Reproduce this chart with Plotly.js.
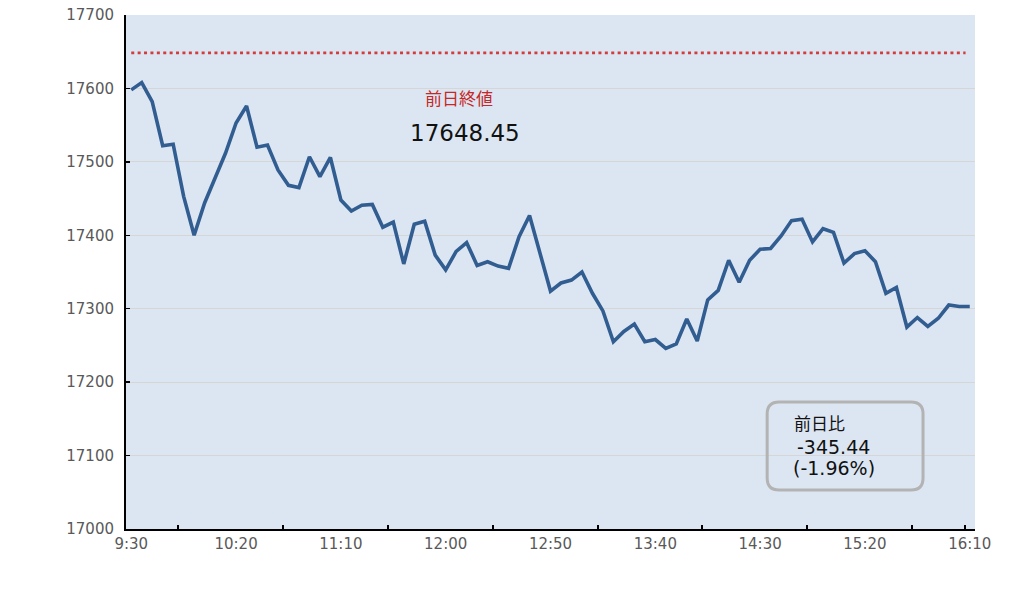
<!DOCTYPE html>
<html>
<head>
<meta charset="utf-8">
<script src="https://cdn.plot.ly/plotly-3.0.1.min.js"></script>
<style>html,body{margin:0;padding:0;background:#fff;}#chart{width:1036px;height:598px;}</style>
</head>
<body>
<div id="chart"></div>
<script>
// Index values every 5 minutes from 9:30 to 16:10
const stepMinutes = 5;
const prices = [
  17598, 17608, 17582, 17522, 17524, 17453, 17400, 17444, 17478, 17512,
  17553, 17576, 17520, 17523, 17489, 17468, 17465, 17507, 17480, 17506,
  17448, 17433, 17441, 17442, 17411, 17418, 17361, 17415, 17419, 17373,
  17353, 17378, 17390, 17359, 17364, 17358, 17355, 17398, 17427, 17375,
  17324, 17335, 17339, 17350, 17321, 17297, 17255, 17269, 17279, 17255,
  17258, 17246, 17252, 17286, 17256, 17312, 17325, 17366, 17336, 17366,
  17381, 17382, 17399, 17420, 17422, 17391, 17409, 17404, 17362, 17375,
  17379, 17364, 17321, 17329, 17275, 17288, 17276, 17287, 17305, 17303,
  17303.01
];
const prevClose = 17648.45;
const prevCloseLabel = "前日終値";
const changeLabel = "前日比";
const changeValue = "-345.44";
const changePct = "(-1.96%)";
const tickLabels = ["9:30","10:20","11:10","12:00","12:50","13:40","14:30","15:20","16:10"];
const tickMinutes = [0, 50, 100, 150, 200, 250, 300, 350, 400];
const minorTickMinutes = [22.5, 72.5, 122.5, 172.5, 222.5, 272.5, 322.5, 372.5, 397.5];

const minutes = prices.map((_, i) => i * stepMinutes);
const lastMinute = minutes[minutes.length - 1];

const numFont = "DejaVu Sans, Noto Sans CJK JP, sans-serif";
const jpFont = "Noto Sans CJK JP, DejaVu Sans, sans-serif";

const traces = [
  {
    x: [0, lastMinute - 2],
    y: [prevClose, prevClose],
    mode: "lines",
    line: {color: "#d23c3c", width: 2.6, dash: "3px,3.4px"},
    hoverinfo: "skip",
    showlegend: false
  },
  {
    x: minutes,
    y: prices,
    mode: "lines",
    line: {color: "#325d91", width: 3.6},
    showlegend: false
  },
  {
    x: minutes,
    y: prices,
    xaxis: "x2",
    mode: "lines",
    line: {width: 0},
    opacity: 0,
    hoverinfo: "skip",
    showlegend: false
  }
];

// rounded box (paper coords)
const bx0 = 0.7552, bx1 = 0.9388, by0 = 0.0759, by1 = 0.2471;
const rx = 0.0141, ry = 0.0234;
const boxPath = `M ${bx0+rx},${by1} L ${bx1-rx},${by1} Q ${bx1},${by1} ${bx1},${by1-ry} ` +
  `L ${bx1},${by0+ry} Q ${bx1},${by0} ${bx1-rx},${by0} L ${bx0+rx},${by0} ` +
  `Q ${bx0},${by0} ${bx0},${by0+ry} L ${bx0},${by1-ry} Q ${bx0},${by1} ${bx0+rx},${by1} Z`;

const layout = {
  width: 1036,
  height: 598,
  margin: {l: 125.5, r: 61, t: 15, b: 69},
  paper_bgcolor: "#ffffff",
  plot_bgcolor: "#dce6f2",
  xaxis: {
    type: "linear",
    range: [-2.5, 402.5],
    tickmode: "array",
    tickvals: tickMinutes,
    ticktext: tickLabels,
    ticks: "",
    showgrid: false,
    zeroline: false,
    showline: true,
    linecolor: "#000000",
    linewidth: 2,
    tickfont: {family: numFont, size: 15, color: "#595959"},
    ticklabelstandoff: 0,
    fixedrange: true
  },
  xaxis2: {
    overlaying: "x",
    anchor: "y",
    side: "bottom",
    type: "linear",
    range: [-2.5, 402.5],
    tickmode: "array",
    tickvals: minorTickMinutes,
    ticks: "inside",
    ticklen: 4,
    tickwidth: 2,
    tickcolor: "#000000",
    showticklabels: false,
    showgrid: false,
    zeroline: false,
    showline: false
  },
  yaxis: {
    range: [17000, 17700],
    dtick: 100,
    tick0: 17000,
    tickformat: "d",
    ticks: "inside",
    ticklen: 4,
    tickwidth: 1.5,
    tickcolor: "#000000",
    showgrid: true,
    gridcolor: "#d6d6d6",
    gridwidth: 1,
    zeroline: false,
    showline: true,
    linecolor: "#000000",
    linewidth: 2,
    tickfont: {family: numFont, size: 15, color: "#595959"},
    ticklabelstandoff: 7,
    fixedrange: true
  },
  shapes: [
    {
      type: "path",
      xref: "paper",
      yref: "paper",
      path: boxPath,
      line: {color: "#b3b3b3", width: 3},
      fillcolor: "rgba(0,0,0,0)"
    }
  ],
  annotations: [
    {xref: "paper", yref: "paper", x: 0.3926, y: 0.8395, xanchor: "center", yanchor: "middle",
     text: prevCloseLabel, showarrow: false, font: {family: jpFont, size: 17, color: "#c62828"}},
    {xref: "paper", yref: "paper", x: 0.3997, y: 0.7714, xanchor: "center", yanchor: "middle",
     text: prevClose.toFixed(2), showarrow: false, font: {family: numFont, size: 23, color: "#111111"}},
    {xref: "paper", yref: "paper", x: 0.7855, y: 0.2063, xanchor: "left", yanchor: "middle", borderpad: 0,
     text: changeLabel, showarrow: false, font: {family: jpFont, size: 17, color: "#111111"}},
    {xref: "paper", yref: "paper", x: 0.7895, y: 0.1605, xanchor: "left", yanchor: "middle", borderpad: 0,
     text: changeValue, showarrow: false, font: {family: numFont, size: 19, color: "#111111"}},
    {xref: "paper", yref: "paper", x: 0.7850, y: 0.1190, xanchor: "left", yanchor: "middle", borderpad: 0,
     text: changePct, showarrow: false, font: {family: numFont, size: 19, color: "#111111"}}
  ],
  showlegend: false,
  hovermode: false
};

Plotly.newPlot("chart", traces, layout, {displayModeBar: false, staticPlot: true});
</script>
</body>
</html>
